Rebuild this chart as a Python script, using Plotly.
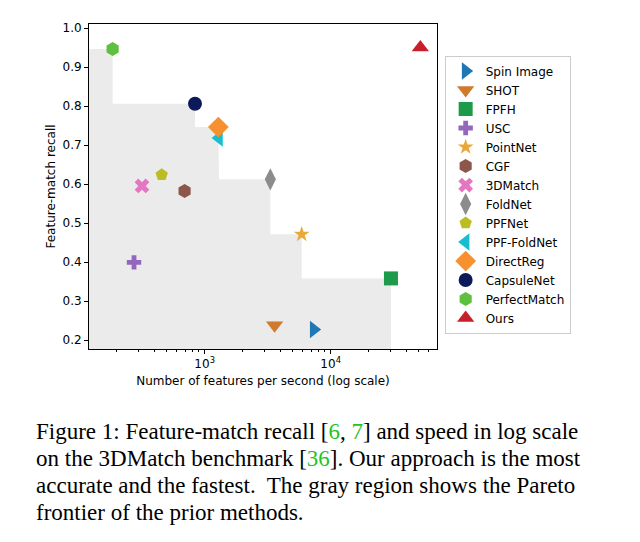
import plotly.graph_objects as go

# ─── Data ────────────────────────────────────────────────────────────
methods = ["Spin Image", "SHOT", "FPFH", "USC", "PointNet", "CGF", "3DMatch",
           "FoldNet", "PPFNet", "PPF-FoldNet", "DirectReg", "CapsuleNet",
           "PerfectMatch", "Ours"]
speed = [7330, 3590, 30100, 275, 5890, 693, 318,
         3320, 456, 1300, 1284, 838, 186, 51500]
recall = [0.227, 0.238, 0.358, 0.399, 0.471, 0.582, 0.595,
          0.612, 0.624, 0.718, 0.746, 0.806, 0.946, 0.950]

x_ticks = [1000, 10000]
x_ticktext = ["10<sup>3</sup>", "10<sup>4</sup>"]
y_ticks = [0.2, 0.3, 0.4, 0.5, 0.6, 0.7, 0.8, 0.9, 1.0]

caption_lines = [
    'Figure 1: Feature-match recall [<span style="color:#22c322">6</span>, '
    '<span style="color:#22c322">7</span>] and speed in log scale',
    'on the 3DMatch benchmark [<span style="color:#22c322">36</span>]. '
    'Our approach is the most',
    "accurate and the fastest.  The gray region shows the Pareto",
    "frontier of the prior methods.",
]

# ─── Styles ──────────────────────────────────────────────────────────
symbols = ["triangle-right", "triangle-down", "square", "cross", "star",
           "hexagon", "x", "diamond-tall", "pentagon", "triangle-left",
           "diamond", "circle", "hexagon", "triangle-up"]
colors = ["#1f77b4", "#cf7a2c", "#1d9a4a", "#9467bd", "#e9a93a",
          "#8c564b", "#e377c2", "#8c8c8c", "#bcbd22", "#17becf",
          "#f7902e", "#0d1a5a", "#5fbf3f", "#c8202a"]
sizes = [15, 15, 14, 12, 12, 14, 13, 16, 13, 15, 16, 14, 14, 15]

X_RANGE = [2.082, 4.844]
Y_RANGE = [0.177, 1.0103]

# ─── Pareto frontier of prior methods ────────────────────────────────
prior = [(s, r) for m, s, r in zip(methods, speed, recall) if m != "Ours"]
steps, best = [], -1
for s, r in sorted(prior, key=lambda p: -p[0]):
    if r > best:
        steps.append((s, r))
        best = r
steps.reverse()

x_left, y_bot = 10 ** X_RANGE[0], Y_RANGE[0]
px, py = [x_left], [y_bot]
prev_x = x_left
for s, r in steps:
    px += [prev_x, s]
    py += [r, r]
    prev_x = s
px += [prev_x, x_left]
py += [y_bot, y_bot]

fig = go.Figure()
fig.add_trace(go.Scatter(
    x=px, y=py, mode="lines", fill="toself",
    fillcolor="#ebebeb", line=dict(width=0),
    hoverinfo="skip", showlegend=False,
))

for i, m in enumerate(methods):
    fig.add_trace(go.Scatter(
        x=[speed[i]], y=[recall[i]], mode="markers", name=m,
        marker=dict(symbol=symbols[i], color=colors[i], size=sizes[i],
                    line=dict(width=0)),
    ))

FONT = "DejaVu Sans, sans-serif"
axis_common = dict(
    showline=True, linecolor="black", linewidth=1, mirror=True,
    ticks="outside", ticklen=4, tickcolor="black", showgrid=False,
    zeroline=False, tickfont=dict(family=FONT, size=12, color="black"),
)

# page body has an 8px margin, so the figure is 16px smaller than the window
fig.update_layout(
    width=624, height=526,
    paper_bgcolor="white", plot_bgcolor="white",
    margin=dict(l=81, r=195, t=16, b=185),
    font=dict(family=FONT, size=12, color="black"),
    xaxis=dict(
        **axis_common, type="log", range=X_RANGE,
        tickmode="array", tickvals=x_ticks, ticktext=x_ticktext,
        minor=dict(ticks="outside", ticklen=2, tickcolor="black",
                   tickmode="array",
                   tickvals=[d * 10 ** e for e in (2, 3, 4) for d in range(2, 10)]),
        title=dict(text="Number of features per second (log scale)",
                   font=dict(family=FONT, size=12), standoff=6),
    ),
    yaxis=dict(
        **axis_common, range=Y_RANGE, tickmode="array", tickvals=y_ticks,
        tickformat=".1f",
        title=dict(text="Feature-match recall",
                   font=dict(family=FONT, size=12), standoff=4),
    ),
    legend=dict(
        x=1.022, y=0.903, xanchor="left", yanchor="top",
        bgcolor="white", bordercolor="#cccccc", borderwidth=1,
        font=dict(family=FONT, size=12, color="black"),
        itemsizing="trace",
    ),
)

for k, line in enumerate(caption_lines):
    fig.add_annotation(
        text=line, xref="paper", yref="paper", showarrow=False,
        x=(34 - 89) / 348, xanchor="left",
        y=(349 - (431 + 27 * k)) / 325, yanchor="middle",
        font=dict(family="Liberation Serif, Times New Roman, serif",
                  size=23, color="black"),
    )

fig.write_html("out.html")
